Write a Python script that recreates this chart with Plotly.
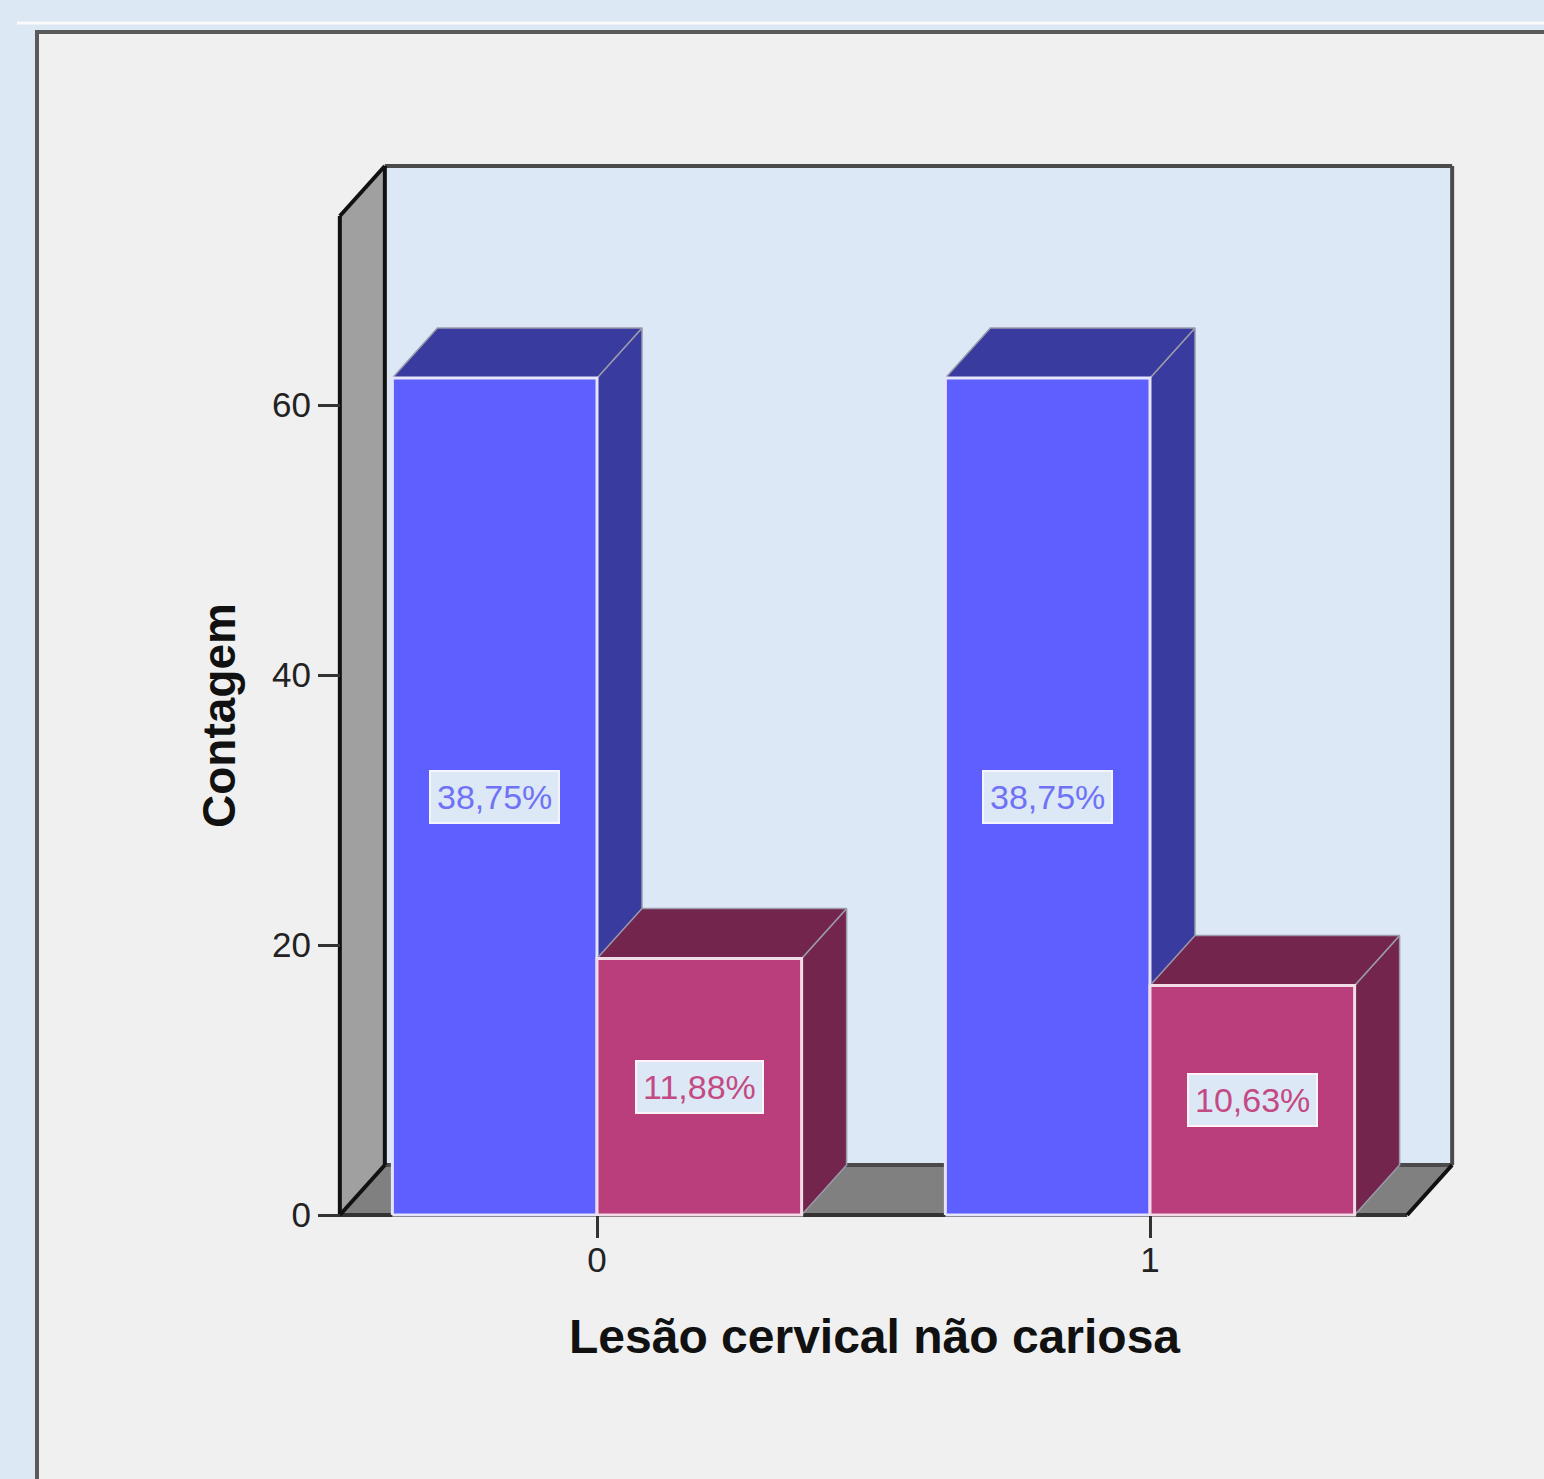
import plotly.graph_objects as go

# ---------------- data ----------------
categories = ["0", "1"]
cat_pos = [0, 1]
counts_a = [62, 62]          # first series (blue)
counts_b = [19, 17]          # second series (pink)
labels_a = ["38,75%", "38,75%"]
labels_b = ["11,88%", "10,63%"]
y_ticks = [0, 20, 40, 60]
x_title = "Lesão cervical não cariosa"
y_title = "Contagem"

# ---------------- style / layout ----------------
W, H = 1544, 1479
PL, PR, PT, PB = 325, 1470, 150, 1225      # plot-area box in pixels
X0PX, XUNIT = 597, 553                      # pixel of category 0, px per category
Y0PX, YUNIT = 1215, 13.5                    # pixel of count 0, px per count

X_LEFT, X_RIGHT, Y_TOP = -0.465, 1.465, 74  # front plane extent (data units)
DX, DY = 45 / XUNIT, 50 / YUNIT             # 3-D depth offset (data units)
BAR_W = 0.37

FONT = "Liberation Sans, Arial, sans-serif"
PAGE_BG = "#DDE8F5"
PANEL_BG = "#F0F0F0"
WALL_BG = "#DCE8F6"
LEFT_WALL = "#A0A0A0"
FLOOR = "#808080"
BLUE_F, BLUE_D, BLUE_TXT = "#5D60FE", "#393B9E", "#7072F6"
PINK_F, PINK_D, PINK_TXT = "#BA3E7C", "#74254E", "#C44A84"


def pxx(p):
    return (p - PL) / (PR - PL)


def pxy(p):
    return (PB - p) / (PB - PT)


def poly(xs, ys, fill, lc, lw):
    return go.Scatter(x=list(xs) + [xs[0]], y=list(ys) + [ys[0]], mode="lines",
                      fill="toself", fillcolor=fill,
                      line=dict(color=lc, width=lw),
                      hoverinfo="skip", showlegend=False)


def segs(pairs, color, width):
    xs, ys = [], []
    for (xa, ya), (xb, yb) in pairs:
        xs += [xa, xb, None]
        ys += [ya, yb, None]
    return go.Scatter(x=xs, y=ys, mode="lines", line=dict(color=color, width=width),
                      hoverinfo="skip", showlegend=False)


fig = go.Figure()

# back wall
fig.add_trace(poly([X_LEFT + DX, X_RIGHT + DX, X_RIGHT + DX, X_LEFT + DX],
                   [DY, DY, Y_TOP + DY, Y_TOP + DY], WALL_BG, WALL_BG, 0.1))
# left wall
fig.add_trace(poly([X_LEFT, X_LEFT, X_LEFT + DX, X_LEFT + DX],
                   [0, Y_TOP, Y_TOP + DY, DY], LEFT_WALL, LEFT_WALL, 0.1))
# floor
fig.add_trace(poly([X_LEFT, X_RIGHT, X_RIGHT + DX, X_LEFT + DX],
                   [0, 0, DY, DY], FLOOR, FLOOR, 0.1))
# frame edges
fig.add_trace(segs([((X_LEFT + DX, Y_TOP + DY), (X_RIGHT + DX, Y_TOP + DY)),
                    ((X_RIGHT + DX, Y_TOP + DY), (X_RIGHT + DX, DY)),
                    ((X_LEFT + DX, DY), (X_RIGHT + DX, DY))], "#4A4A4A", 4))
fig.add_trace(segs([((X_LEFT, 0), (X_RIGHT, 0))], "#333333", 4))
fig.add_trace(segs([((X_LEFT + DX, Y_TOP + DY), (X_LEFT + DX, DY)),
                    ((X_LEFT, Y_TOP), (X_LEFT + DX, Y_TOP + DY)),
                    ((X_LEFT, 0), (X_LEFT, Y_TOP)),
                    ((X_LEFT, 0), (X_LEFT + DX, DY)),
                    ((X_RIGHT, 0), (X_RIGHT + DX, DY))], "#111111", 4))


def bar3d(x0, x1, h, front, dark, edge):
    # right side face
    fig.add_trace(poly([x1, x1 + DX, x1 + DX, x1], [0, DY, h + DY, h], dark, "#9A9AAA", 1.5))
    # top face
    fig.add_trace(poly([x0, x1, x1 + DX, x0 + DX], [h, h, h + DY, h + DY], dark, "#9A9AAA", 1.5))
    # front face
    fig.add_trace(poly([x0, x1, x1, x0], [0, 0, h, h], front, edge, 3))


for c, a, b in zip(cat_pos, counts_a, counts_b):
    bar3d(c - BAR_W, c, a, BLUE_F, BLUE_D, "#E4E4FA")
    bar3d(c, c + BAR_W, b, PINK_F, PINK_D, "#F2DCE8")

annotations = []
for c, a, b, la, lb in zip(cat_pos, counts_a, counts_b, labels_a, labels_b):
    annotations.append(dict(x=c - BAR_W / 2, y=a / 2, xref="x", yref="y", text=la,
                            showarrow=False, font=dict(family=FONT, size=34, color=BLUE_TXT),
                            bgcolor=WALL_BG, bordercolor="#F4F4FF", borderwidth=2, borderpad=6))
    annotations.append(dict(x=c + BAR_W / 2, y=b / 2, xref="x", yref="y", text=lb,
                            showarrow=False, font=dict(family=FONT, size=34, color=PINK_TXT),
                            bgcolor=WALL_BG, bordercolor="#FFF2F8", borderwidth=2, borderpad=6))

annotations.append(dict(x=pxx(219), y=pxy(716), xref="paper", yref="paper", text=y_title,
                        textangle=-90, showarrow=False, xanchor="center", yanchor="middle",
                        font=dict(family=FONT, size=46, color="#111111", weight="bold")))
annotations.append(dict(x=pxx(874), y=pxy(1336), xref="paper", yref="paper", text=x_title,
                        showarrow=False, xanchor="center", yanchor="middle",
                        font=dict(family=FONT, size=48, color="#111111", weight="bold")))

shapes = [
    dict(type="rect", xref="paper", yref="paper", x0=pxx(37), x1=pxx(1620),
         y0=pxy(1560), y1=pxy(32), fillcolor=PANEL_BG,
         line=dict(color="#5A5A5A", width=4), layer="below"),
    dict(type="line", xref="paper", yref="paper", x0=pxx(17), x1=pxx(1620),
         y0=pxy(23), y1=pxy(23), line=dict(color="#FAFAFA", width=3), layer="below"),
]

fig.update_layout(
    width=W, height=H, autosize=False,
    margin=dict(l=PL, r=W - PR, t=PT, b=H - PB, pad=0),
    paper_bgcolor=PAGE_BG, plot_bgcolor="rgba(0,0,0,0)",
    showlegend=False,
    font=dict(family=FONT, color="#222222"),
    xaxis=dict(range=[(PL - X0PX) / XUNIT, (PR - X0PX) / XUNIT],
               tickvals=cat_pos, ticktext=categories,
               showgrid=False, zeroline=False, showline=False,
               ticks="outside", ticklen=22, tickwidth=3, tickcolor="#333333",
               ticklabelstandoff=-8,
               tickfont=dict(family=FONT, size=35, color="#222222"),
               anchor="free", position=(PB - Y0PX) / (PB - PT), fixedrange=True),
    yaxis=dict(range=[-(PB - Y0PX) / YUNIT, (Y0PX - PT) / YUNIT],
               tickvals=y_ticks,
               showgrid=False, zeroline=False, showline=False,
               ticks="outside", ticklen=22, tickwidth=3, tickcolor="#333333",
               tickfont=dict(family=FONT, size=35, color="#222222"),
               anchor="free", position=(340 - PL) / (PR - PL), fixedrange=True),
    annotations=annotations,
    shapes=shapes,
)

fig.write_html("out.html")
